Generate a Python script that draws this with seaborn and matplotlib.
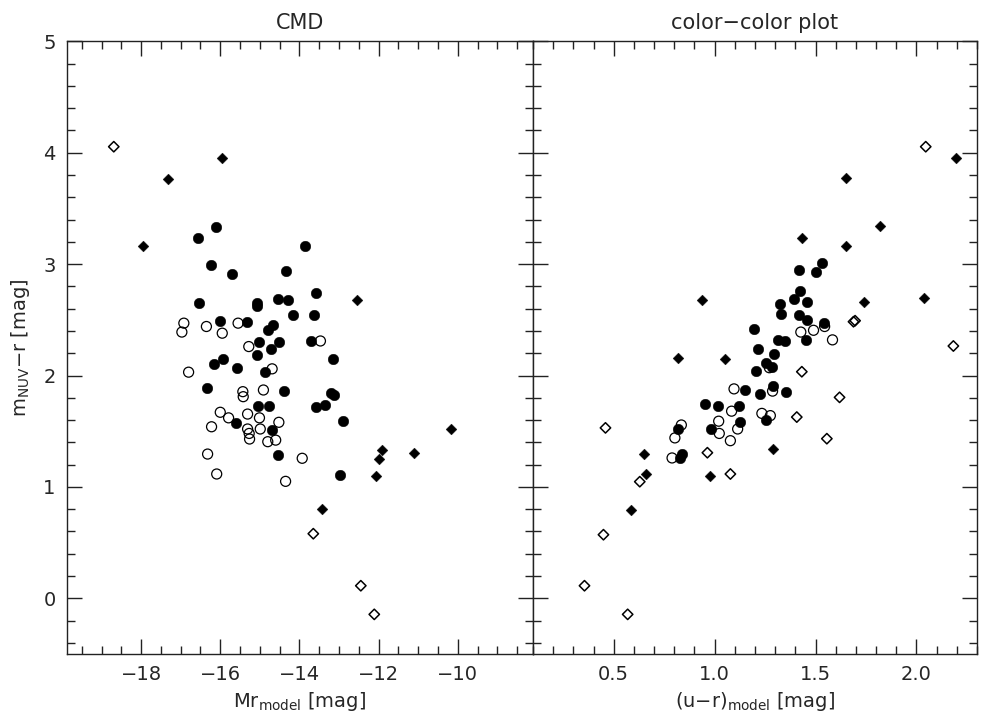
import pandas as pd
import seaborn as sns
import matplotlib.pyplot as plt
from matplotlib.ticker import MultipleLocator

# ---- CMD panel: Mr_model vs m_NUV - r ----
cmd_fc_x = [-16.12, -16.57, -16.24, -15.70, -14.34, -16.54, -15.06, -15.08, -14.53, -14.29,
            -14.17, -16.01, -15.32, -14.68, -14.80, -15.03, -14.51, -15.08, -14.72, -15.92,
            -16.17, -13.85, -13.57, -13.63, -13.72, -13.14, -15.57, -14.86, -16.33, -14.40,
            -13.20, -13.12, -13.58, -13.35, -12.91, -12.97, -15.04, -14.77, -15.61, -14.70,
            -14.53]
cmd_fc_y = [3.33, 3.23, 2.99, 2.91, 2.94, 2.65, 2.65, 2.62, 2.69, 2.68,
            2.54, 2.49, 2.48, 2.45, 2.41, 2.30, 2.30, 2.18, 2.24, 2.15,
            2.10, 3.16, 2.74, 2.54, 2.31, 2.15, 2.07, 2.03, 1.89, 1.86,
            1.84, 1.825, 1.72, 1.735, 1.59, 1.11, 1.726, 1.726, 1.576, 1.51,
            1.286]

cmd_oc_x = [-16.92, -16.97, -16.35, -15.95, -15.55, -15.28, -13.47, -14.69, -16.80, -15.43,
            -15.42, -14.91, -13.93, -16.00, -15.79, -15.31, -15.01, -14.52, -16.22, -15.31,
            -15.27, -15.26, -14.99, -14.80, -14.60, -16.32, -16.09, -14.35]
cmd_oc_y = [2.47, 2.39, 2.44, 2.38, 2.47, 2.26, 2.31, 2.06, 2.03, 1.855,
            1.81, 1.87, 1.257, 1.67, 1.62, 1.654, 1.62, 1.58, 1.54, 1.52,
            1.48, 1.43, 1.52, 1.406, 1.42, 1.295, 1.116, 1.05]

cmd_fd_x = [-15.96, -17.32, -17.96, -12.55, -10.18, -11.92, -11.98, -11.11, -12.07, -13.42]
cmd_fd_y = [3.95, 3.76, 3.16, 2.68, 1.517, 1.33, 1.25, 1.30, 1.098, 0.80]

cmd_od_x = [-18.69, -12.45, -12.11, -13.65]
cmd_od_y = [4.054, 0.113, -0.144, 0.58]

# ---- color-color panel: (u-r)_model vs m_NUV - r ----
cc_fc_x = [1.197, 1.213, 1.254, 1.205, 1.152, 1.224, 1.254, 0.952, 1.018, 1.122,
           1.125, 0.984, 0.817, 0.838, 0.830, 1.419, 1.531, 1.501, 1.424, 1.394,
           1.457, 1.322, 1.330, 1.417, 1.457, 1.540, 1.455, 1.313, 1.351, 1.292,
           1.284, 1.287, 1.355]
cc_fc_y = [2.42, 2.24, 2.11, 2.04, 1.87, 1.83, 1.60, 1.74, 1.73, 1.726,
           1.58, 1.52, 1.517, 1.295, 1.257, 2.95, 3.01, 2.93, 2.76, 2.69,
           2.66, 2.64, 2.55, 2.546, 2.50, 2.47, 2.316, 2.316, 2.31, 2.196,
           2.08, 1.91, 1.85]

cc_oc_x = [1.096, 1.234, 1.084, 1.020, 1.023, 1.114, 1.078, 0.835, 0.803, 0.789,
           1.545, 1.427, 1.490, 1.584, 1.271, 1.287, 1.276]
cc_oc_y = [1.88, 1.66, 1.68, 1.59, 1.48, 1.52, 1.415, 1.556, 1.44, 1.26,
           2.44, 2.39, 2.406, 2.32, 2.07, 1.86, 1.64]

cc_fd_x = [0.937, 0.818, 1.051, 0.652, 0.662, 0.977, 0.586, 1.434, 1.817, 1.652,
           1.739, 1.290, 2.197, 2.035, 1.650]
cc_fd_y = [2.68, 2.157, 2.15, 1.295, 1.113, 1.095, 0.79, 3.234, 3.342, 3.16,
           2.66, 1.34, 3.95, 2.70, 3.77]

cc_od_x = [0.459, 0.629, 0.964, 1.078, 0.449, 0.355, 0.569, 1.688, 1.696, 1.432,
           1.619, 1.407, 1.556, 2.046, 2.183]
cc_od_y = [1.53, 1.047, 1.307, 1.116, 0.571, 0.113, -0.144, 2.483, 2.492, 2.034,
           1.804, 1.627, 1.433, 4.054, 2.265]

sns.set_style("ticks")
plt.rcParams['font.family'] = ['DejaVu Sans']
plt.rcParams['mathtext.default'] = 'regular'

fig = plt.figure(figsize=(9.95, 7.21), dpi=100)
ax1 = fig.add_axes([0.0670, 0.0929, 0.4687, 0.8498])
ax2 = fig.add_axes([0.5357, 0.0929, 0.4462, 0.8498])


def draw_panel(ax, fc, oc, fd, od):
    sns.scatterplot(x=oc[0], y=oc[1], ax=ax, marker='o', s=52,
                    facecolor='none', edgecolor='black', linewidth=0.9)
    sns.scatterplot(x=od[0], y=od[1], ax=ax, marker='D', s=28,
                    facecolor='none', edgecolor='black', linewidth=1.1)
    sns.scatterplot(x=fc[0], y=fc[1], ax=ax, marker='o', s=58,
                    color='black', edgecolor='black', linewidth=0.3)
    sns.scatterplot(x=fd[0], y=fd[1], ax=ax, marker='D', s=30,
                    color='black', edgecolor='black', linewidth=0.3)
    ax.set_ylim(-0.5, 5)
    ax.yaxis.set_major_locator(MultipleLocator(1))
    ax.yaxis.set_minor_locator(MultipleLocator(0.2))
    ax.tick_params(which='both', direction='in', top=True, right=True,
                   labelsize=14, pad=8, color='#222222', width=1)
    ax.tick_params(which='major', length=11)
    ax.tick_params(which='minor', length=5.5)
    for sp in ax.spines.values():
        sp.set_linewidth(1)
        sp.set_color('#222222')


draw_panel(ax1, (cmd_fc_x, cmd_fc_y), (cmd_oc_x, cmd_oc_y),
           (cmd_fd_x, cmd_fd_y), (cmd_od_x, cmd_od_y))
draw_panel(ax2, (cc_fc_x, cc_fc_y), (cc_oc_x, cc_oc_y),
           (cc_fd_x, cc_fd_y), (cc_od_x, cc_od_y))

ax1.set_xlim(-19.88, -8.1)
ax1.xaxis.set_minor_locator(MultipleLocator(0.5))
ax1.set_xticks([-18, -16, -14, -12, -10])
ax1.set_xticklabels(['\u221218', '\u221216', '\u221214', '\u221212', '\u221210'])
ax1.set_yticks([0, 1, 2, 3, 4, 5])
ax1.set_yticklabels(['0', '1', '2', '3', '4', '5'])

ax2.set_xlim(0.1, 2.3)
ax2.xaxis.set_minor_locator(MultipleLocator(0.1))
ax2.set_xticks([0.5, 1.0, 1.5, 2.0])
ax2.set_xticklabels(['0.5', '1.0', '1.5', '2.0'])
ax2.tick_params(labelleft=False)

ax1.set_title('CMD', fontsize=15, pad=9)
ax2.set_title('color\u2212color plot', fontsize=15, pad=9)
ax1.set_xlabel('Mr$_{model}$ [mag]', fontsize=14, labelpad=4)
ax2.set_xlabel('(u\u2212r)$_{model}$ [mag]', fontsize=14, labelpad=4)
ax1.set_ylabel('m$_{NUV}$\u2212r [mag]', fontsize=14, labelpad=8)
ax2.set_ylabel('')

fig.savefig('out.png', dpi=100)
